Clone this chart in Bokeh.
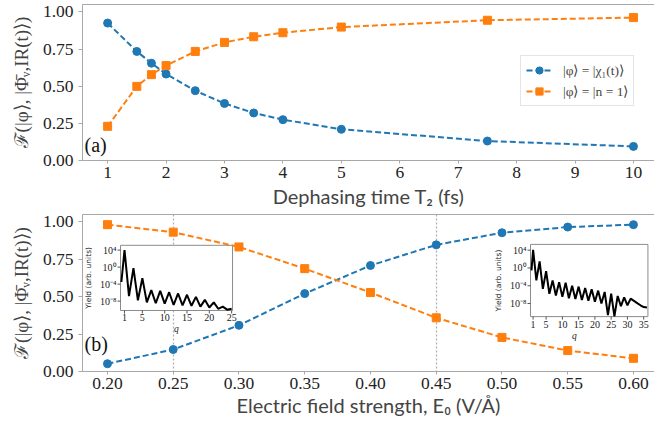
import math
from bokeh.plotting import figure
from bokeh.layouts import column
from bokeh.models import (Range1d, LogScale, Legend, LegendItem, Label, LinearAxis,
                          FixedTicker, PrintfTickFormatter)
from bokeh.embed import file_html
from bokeh.resources import INLINE
from bokeh.core.properties import value

# ---------------- data ----------------
T2 = [1, 1.5, 1.75, 2, 2.5, 3, 3.5, 4, 5, 7.5, 10]
fid_chi_T2 = [0.925, 0.734, 0.655, 0.582, 0.470, 0.384, 0.320, 0.275, 0.210, 0.131, 0.095]
fid_n1_T2 = [0.230, 0.499, 0.578, 0.639, 0.734, 0.795, 0.833, 0.860, 0.898, 0.944, 0.962]

E0 = [0.20, 0.25, 0.30, 0.35, 0.40, 0.45, 0.50, 0.55, 0.60]
fid_chi_E0 = [0.052, 0.147, 0.309, 0.521, 0.709, 0.847, 0.928, 0.966, 0.982]
fid_n1_E0 = [0.982, 0.932, 0.833, 0.688, 0.528, 0.359, 0.228, 0.140, 0.088]
marked_E0 = [0.25, 0.45]

# HHG spectra shown in the insets (harmonic order q, log10 of yield)
q_in1 = [0.3, 1, 2, 3, 4, 5, 6, 7, 8, 9, 10, 11, 12, 13, 14, 15, 16, 17, 18, 19, 20,
         21, 22, 23, 24, 25]
logY_in1 = [-3.5, 4.0, -6.8, -0.25, -7.8, -2.6, -8.3, -5.4, -8.5, -5.6, -8.6, -5.9, -8.9,
            -6.2, -9.0, -6.5, -9.1, -7.0, -9.3, -7.7, -9.5, -8.3, -9.8, -9.3, -10.0, -9.8]
q_in2 = [0.5, 1, 2, 3, 4, 5, 6, 7, 8, 9, 10, 11, 12, 13, 14, 15, 16, 17, 18, 19, 20,
         21, 22, 23, 24, 25, 26, 27, 28, 29, 30, 31, 32, 33, 34, 35, 36]
logY_in2 = [-0.55, 4.1, -2.8, 1.5, -4.7, -0.7, -5.8, -2.8, -6.2, -3.2, -6.5, -3.3, -6.8,
            -4.0, -7.0, -4.2, -7.2, -4.5, -7.4, -4.8, -7.6, -5.1, -8.0, -5.4, -10.6, -5.8,
            -10.9, -6.3, -8.6, -6.6, -8.4, -6.9, -7.4, -7.9, -8.4, -8.8, -8.9]

T2_ticks = [1, 2, 3, 4, 5, 6, 7, 8, 9, 10]
E0_ticks = [0.20, 0.25, 0.30, 0.35, 0.40, 0.45, 0.50, 0.55, 0.60]
F_ticks = [0.0, 0.25, 0.50, 0.75, 1.00]
in1_q_ticks = [1, 5, 10, 15, 20, 25]
in2_q_ticks = [1, 5, 10, 15, 20, 25, 30, 35]
in_decades = [4, 0, -4, -8]

labels = ["|φ⟩ = |χ₁(t)⟩", "|φ⟩ = |n = 1⟩"]
ylabel = "ℱ(|φ⟩, |Φ̄ᵥ,IR(t)⟩)"

# ---------------- style ----------------
BLUE = "#1f77b4"
ORANGE = "#ff7f0e"
GRAY = "#a8a8a8"
SERIF = "Liberation Serif"
W = 654


def style_main(p, xticks, xfmt, xlabel, xlabel_size, xlabel_standoff):
    p.outline_line_color = None
    p.xgrid.visible = False
    p.ygrid.visible = False
    for ax, ticks, fmt in ((p.xaxis[0], xticks, xfmt), (p.yaxis[0], F_ticks, "%.2f")):
        ax.ticker = FixedTicker(ticks=ticks)
        ax.formatter = PrintfTickFormatter(format=fmt)
        ax.axis_line_color = GRAY
        ax.major_tick_line_color = GRAY
        ax.major_tick_out = 4
        ax.major_tick_in = 0
        ax.minor_tick_out = 0
        ax.minor_tick_in = 0
        ax.major_label_text_font = SERIF
        ax.major_label_text_font_size = "17.5px"
        ax.major_label_text_color = "#222222"
    p.xaxis.major_tick_out = 3
    p.xaxis.major_label_standoff = 3
    p.yaxis.major_label_standoff = 5
    p.xaxis.axis_label = xlabel
    p.xaxis.axis_label_text_font = "Lato"
    p.xaxis.axis_label_text_font_style = "normal"
    p.xaxis.axis_label_text_font_size = xlabel_size
    p.xaxis.axis_label_standoff = xlabel_standoff
    p.yaxis.axis_label = ylabel
    p.yaxis.axis_label_text_font = SERIF
    p.yaxis.axis_label_text_font_style = "normal"
    p.yaxis.axis_label_text_font_size = "19px"
    p.yaxis.axis_label_standoff = 8
    top = LinearAxis(ticker=FixedTicker(ticks=[]), axis_line_color=GRAY,
                     major_tick_out=0, major_tick_in=0, minor_tick_out=0, minor_tick_in=0,
                     major_label_text_font_size="0px", major_label_standoff=0)
    p.add_layout(top, "above")


def series(p, x, y, color, marker):
    ln = p.line(x, y, line_color=color, line_width=2, line_dash="6 3")
    mk = p.scatter(x, y, marker=marker, size=8, fill_color=color, line_color=color)
    return [ln, mk]


def add_inset(p, name, box, xlim, lylim, q, logY, qticks, q_label_x):
    X0, X1, Y0, Y1 = box
    m0, m1 = p.x_range.start, p.x_range.end
    kx = (xlim[1] - xlim[0]) / (X1 - X0)
    n0, n1 = p.y_range.start, p.y_range.end
    ky = (lylim[1] - lylim[0]) / (Y1 - Y0)
    xr = Range1d(xlim[0] + (m0 - X0) * kx, xlim[0] + (m1 - X0) * kx)
    yr = Range1d(10 ** (lylim[0] + (n0 - Y0) * ky), 10 ** (lylim[0] + (n1 - Y0) * ky))
    ex = dict(p.extra_x_ranges); ex[name] = xr; p.extra_x_ranges = ex
    ey = dict(p.extra_y_ranges); ey[name] = yr; p.extra_y_ranges = ey
    es = dict(p.extra_y_scales); es[name] = LogScale(); p.extra_y_scales = es
    kw = dict(x_range_name=name, y_range_name=name)
    ybot, ytop = 10 ** lylim[0], 10 ** lylim[1]
    p.quad(left=[xlim[0]], right=[xlim[1]], bottom=[ybot], top=[ytop],
           fill_color="white", line_color="#8c8c8c", line_width=1, **kw)
    p.line(q, [10 ** v for v in logY], line_color="black", line_width=2, **kw)
    # ticks
    p.ray(x=qticks, y=[ybot] * len(qticks), length=3, length_units="screen",
          angle=-math.pi / 2, line_color="#555555", line_width=1, **kw)
    dec_y = [10 ** d for d in in_decades]
    p.ray(x=[xlim[0]] * len(dec_y), y=dec_y, length=3, length_units="screen",
          angle=math.pi, line_color="#555555", line_width=1, **kw)
    p.text(x=qticks, y=[ybot] * len(qticks), text=[str(t) for t in qticks],
           text_align="center", text_baseline="top", y_offset=4,
           text_font=value(SERIF), text_font_size="10px", text_color="#222222", **kw)
    sup = str.maketrans("-0123456789", "⁻⁰¹²³⁴⁵⁶⁷⁸⁹")
    p.text(x=[xlim[0]] * len(dec_y), y=dec_y,
           text=["10" + str(d).translate(sup) for d in in_decades],
           text_align="right", text_baseline="middle", x_offset=-4,
           text_font=value(SERIF), text_font_size="10px", text_color="#222222", **kw)
    p.text(x=[q_label_x], y=[ybot], text=["q"], text_align="center", text_baseline="top",
           y_offset=14, text_font=value(SERIF), text_font_style="italic",
           text_font_size="9.5px", text_color="#222222", **kw)
    ymid = 10 ** ((lylim[0] + lylim[1]) / 2)
    p.text(x=[xlim[0]], y=[ymid], text=["Yield (arb. units)"], angle=math.pi / 2,
           text_align="center", text_baseline="bottom", x_offset=-28,
           text_font=value("DejaVu Sans"), text_font_size="7.5px", text_color="#222222", **kw)


# ---------------- panel (a) ----------------
p1 = figure(width=W, height=211, x_range=Range1d(0.57, 10.36), y_range=Range1d(0, 1.05),
            output_backend="svg", toolbar_location=None,
            min_border_left=82, min_border_right=0, min_border_top=4, min_border_bottom=51)
style_main(p1, T2_ticks, "%d", "Dephasing time T₂ (fs)", "20px", 3)
ra = series(p1, T2, fid_chi_T2, BLUE, "circle")
rb = series(p1, T2, fid_n1_T2, ORANGE, "square")
legend = Legend(items=[LegendItem(label=labels[0], renderers=ra),
                       LegendItem(label=labels[1], renderers=rb)],
                location=(438, 54), border_line_color="#cccccc", background_fill_alpha=0.85,
                label_text_font=SERIF, label_text_font_size="13.5px", glyph_width=26,
                glyph_height=18, label_height=18, label_standoff=11, spacing=3, padding=5,
                margin=0)
p1.add_layout(legend)
p1.add_layout(Label(x=2, y=5, x_units="screen", y_units="screen", text="(a)",
                    text_font=SERIF, text_font_size="20px", text_color="#111111"))

# ---------------- panel (b) ----------------
p2 = figure(width=W, height=215, x_range=Range1d(0.181, 0.616), y_range=Range1d(0, 1.05),
            output_backend="svg", toolbar_location=None,
            min_border_left=82, min_border_right=0, min_border_top=3, min_border_bottom=55)
style_main(p2, E0_ticks, "%.2f", "Electric field strength, E₀ (V/Å)", "20px", 1)
p2.vspan(x=marked_E0, line_color="#b0b0b0", line_width=1.3, line_dash="2 2")
add_inset(p2, "in1", (0.2099, 0.2951, 0.408, 0.844), (0.1, 25.2), (-10.2, 5.13),
          q_in1, logY_in1, in1_q_ticks, 12.6)
add_inset(p2, "in2", (0.5217, 0.6110, 0.367, 0.850), (0.2, 36.3), (-10.95, 5.3),
          q_in2, logY_in2, in2_q_ticks, 13.7)
series(p2, E0, fid_chi_E0, BLUE, "circle")
series(p2, E0, fid_n1_E0, ORANGE, "square")
p2.add_layout(Label(x=2, y=17, x_units="screen", y_units="screen", text="(b)",
                    text_font=SERIF, text_font_size="20px", text_color="#111111"))

layout = column(p1, p2, spacing=0)
open("out.html", "w").write(file_html(layout, INLINE))
